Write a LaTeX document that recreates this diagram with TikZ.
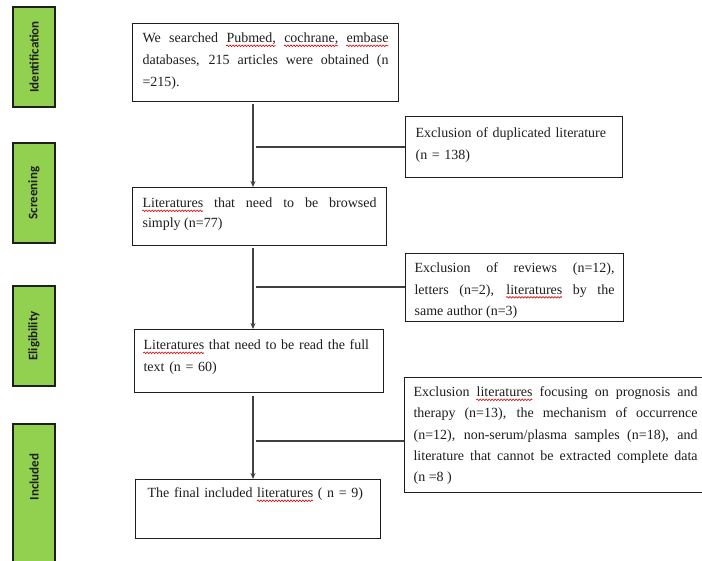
\documentclass[tikz,border=0pt]{standalone}
\usepackage{fontspec}
\setmainfont{Liberation Serif}
\newfontfamily\stagefont{Carlito}
\usetikzlibrary{arrows.meta,decorations.pathmorphing}
\definecolor{stagegreen}{HTML}{92D050}
\definecolor{ink}{HTML}{1E1E1E}
\newsavebox\sqbox
\newcommand\sq[1]{\sbox\sqbox{#1}\usebox\sqbox\llap{\tikz[x=1pt,y=1pt,baseline=0pt]{\draw[red!85!black,line width=0.6pt,decorate,decoration={snake,amplitude=0.8pt,segment length=3pt}] (0pt,-3.2pt) -- (\the\wd\sqbox,-3.2pt);}}}
\begin{document}
\begin{tikzpicture}[x=1pt,y=1pt,
  box/.style={draw=ink, line width=1.2pt, anchor=north west, inner ysep=0pt,
    text=ink, font=\fontsize{14}{22}\selectfont\hyphenpenalty10000\exhyphenpenalty10000},
  stagefont/.style={text=ink, font=\stagefont\bfseries\fontsize{13}{13}\selectfont},
  stage/.style={draw=ink, line width=1.4pt, fill=stagegreen, rotate=90,
    minimum height=42pt, inner sep=0pt, stagefont},
  stagetext/.style={rotate=90, inner sep=0pt, stagefont},
  ln/.style={draw=ink!85, line width=1.2pt},
  arr/.style={ln, -{Stealth[length=6pt,width=5pt]}}]
\fill[white] (0,0) rectangle (702,-561);
\useasboundingbox (0,0) rectangle (702,-561);

% stage labels
\node[stage, minimum width=100pt] (sid) at (34,-57) {Identification};
\node[stage, minimum width=100pt] (ssc) at (34,-193) {Screening};
\node[stage, minimum width=100pt] (sel) at (34,-336) {Eligibility};
\node[stage, minimum width=160pt] (sin) at (34,-504) {};
\node[stagetext] (sint) at (34,-477) {Included};

% main boxes
\node[box, inner xsep=10pt, text width=246pt, align=justify, text height=19pt, text depth=59pt] (b1) at (132,-23)
  {We searched \sq{Pubmed,} \sq{cochrane,} \sq{embase} databases, 215 articles were obtained (n =215).};
\node[box, inner xsep=10pt, text width=234pt, align=justify, text height=20pt, text depth=38pt,
  font=\fontsize{14}{20}\selectfont] (b2) at (132,-187)
  {\sq{Literatures} that need to be browsed\linebreak simply (n=77)};
\node[box, inner xsep=9pt, text width=231pt, align=left, text height=20pt, text depth=43pt] (b3) at (134,-329)
  {\mbox{\sq{Literatures} that need to be read the full}\\ text (n = 60)};
\node[box, inner xsep=12pt, text width=221pt, align=left, text height=18pt, text depth=41pt] (b4) at (135,-479)
  {\mbox{The final included \sq{literatures} ( n = 9)}};

% exclusion boxes
\node[box, inner xsep=10pt, text width=197pt, align=left, text height=21pt, text depth=40pt] (e1) at (405,-116)
  {\mbox{Exclusion of duplicated literature}\\ (n = 138)};
\node[box, inner xsep=9pt, text width=200pt, align=justify, text height=19pt, text depth=49pt,
  font=\fontsize{14}{21.5}\selectfont] (e2) at (405,-253)
  {Exclusion of reviews (n=12),\linebreak letters (n=2), \sq{literatures} by the\linebreak same author (n=3)};
\node[box, inner xsep=9pt, text width=284pt, align=justify, text height=19pt, text depth=96pt,
  font=\fontsize{14}{21.3}\selectfont] (e3) at (404,-377)
  {Exclusion \sq{literatures} focusing on prognosis and\linebreak therapy (n=13), the mechanism of occurrence\linebreak (n=12), non-serum/plasma samples (n=18), and\linebreak literature that cannot be extracted complete data\linebreak (n =8 )};

% connectors
\coordinate (s1) at (253,-104);
\coordinate (h1) at (256,-147);
\coordinate (s2) at (253,-248);
\coordinate (h2) at (256,-287);
\coordinate (s3) at (253,-396);
\coordinate (h3) at (256,-441);
\draw[arr] (s1) -- (s1 |- b2.north);
\draw[ln] (h1) -- (h1 -| e1.west);
\draw[arr] (s2) -- (s2 |- b3.north);
\draw[ln] (h2) -- (h2 -| e2.west);
\draw[arr] (s3) -- (s3 |- b4.north);
\draw[ln] (h3) -- (h3 -| e3.west);
\end{tikzpicture}
\end{document}
